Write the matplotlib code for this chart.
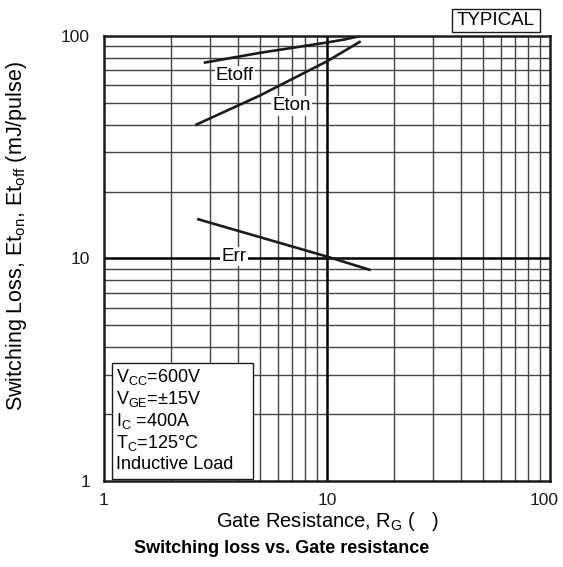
import numpy as np
import matplotlib
matplotlib.use("Agg")
import matplotlib.pyplot as plt
from matplotlib.patches import Rectangle
from matplotlib.transforms import ScaledTranslation
from matplotlib.ticker import FixedLocator, NullFormatter, FixedFormatter

plt.rcParams['font.family'] = ['Liberation Sans', 'DejaVu Sans']
plt.rcParams['mathtext.fontset'] = 'custom'
plt.rcParams['mathtext.rm'] = 'Liberation Sans'
plt.rcParams['mathtext.it'] = 'Liberation Sans'

# ── data (R in ohm, E in mJ/pulse) ──
r_etoff = [2.84, 5.0, 10.0, 12.0, 13.8]
e_etoff = [76.0, 84.0, 93.5, 96.5, 99.5]

r_eton = [2.6, 5.0, 10.0, 14.0]
e_eton = [40.0, 54.0, 77.0, 94.0]

r_err = [2.65, 10.0, 15.5]
e_err = [15.0, 10.2, 8.9]

x_ticks = [1, 10, 100]
y_ticks = [1, 10, 100]

conditions = [r"V$_{\mathrm{CC}}$=600V",
              r"V$_{\mathrm{GE}}$=$\pm$15V",
              r"I$_{\mathrm{C}}$ =400A",
              r"T$_{\mathrm{C}}$=125°C",
              "Inductive Load"]

fig = plt.figure(figsize=(5.63, 5.67), dpi=100)
ax = fig.add_axes([0.1847, 0.1517, 0.7922, 0.7848])
ax.set_xscale('log')
ax.set_yscale('log')
ax.set_xlim(1, 100)
ax.set_ylim(1, 100)

# grid: minor lines grey, decade lines black
minor = [m * d for d in (1, 10) for m in range(2, 10)]
for v in minor:
    ax.axvline(v, color='#444444', lw=1.0, zorder=1)
    ax.axhline(v, color='#444444', lw=1.0, zorder=1)
ax.axvline(10, color='black', lw=1.8, zorder=1)
ax.axhline(10, color='black', lw=1.8, zorder=1)

ax.plot(r_etoff, e_etoff, color='#1a1a1a', lw=1.9, zorder=3)
ax.plot(r_eton, e_eton, color='#1a1a1a', lw=1.9, zorder=3)
ax.plot(r_err, e_err, color='#1a1a1a', lw=1.9, zorder=3)

lbl = dict(fontsize=13.5, ha='center', va='center', zorder=4,
           bbox=dict(facecolor='white', edgecolor='none', pad=1.0))
ax.text(3.87, 66.4, "Etoff", **lbl)
ax.text(6.95, 48.6, "Eton", **lbl)
ax.text(3.83, 10.2, "Err", **lbl)

# conditions box
ax.add_patch(Rectangle((0.0173, 0.0045), 0.317, 0.26, transform=ax.transAxes,
                       facecolor='white', edgecolor='#1a1a1a', lw=1.0, zorder=5))
for i, line in enumerate(conditions):
    ax.text(0.027, 0.234 - i * 0.0495, line, transform=ax.transAxes,
            fontsize=13, ha='left', va='center', zorder=6)

# TYPICAL tag
fig.patches.append(Rectangle((0.803, 0.944), 0.156, 0.0396, transform=fig.transFigure,
                             facecolor='white', edgecolor='#1a1a1a', lw=1.0))
fig.text(0.881, 0.9638, "TYPICAL", fontsize=13.5, ha='center', va='center')

ax.xaxis.set_major_locator(FixedLocator(x_ticks))
ax.xaxis.set_major_formatter(FixedFormatter([str(t) for t in x_ticks]))
ax.yaxis.set_major_locator(FixedLocator(y_ticks))
ax.yaxis.set_major_formatter(FixedFormatter([str(t) for t in y_ticks]))
ax.xaxis.set_minor_formatter(NullFormatter())
ax.yaxis.set_minor_formatter(NullFormatter())
ax.tick_params(which='both', length=0, labelsize=12.5, colors='#1a1a1a')
ax.tick_params(axis='x', pad=9)
ax.tick_params(axis='y', pad=10)

# the "100" under the right spine sits a little inside the frame
last = ax.xaxis.get_major_ticks()[-1].label1
last.set_transform(last.get_transform() + ScaledTranslation(-0.06, 0, fig.dpi_scale_trans))

for s in ax.spines.values():
    s.set_linewidth(1.8)
    s.set_color('#1a1a1a')

ax.set_xlabel(r"Gate Resistance, R$_{\mathrm{G}}$ (   )", fontsize=14.5, labelpad=1)
ax.set_ylabel(r"Switching Loss, Et$_{\mathrm{on}}$, Et$_{\mathrm{off}}$ (mJ/pulse)",
              fontsize=15.5)
ax.yaxis.set_label_coords(-0.168, 0.55)
fig.text(0.5, 0.033, "Switching loss vs. Gate resistance", fontsize=13,
         fontweight='bold', ha='center', va='center')

fig.savefig("out.png", dpi=100)
